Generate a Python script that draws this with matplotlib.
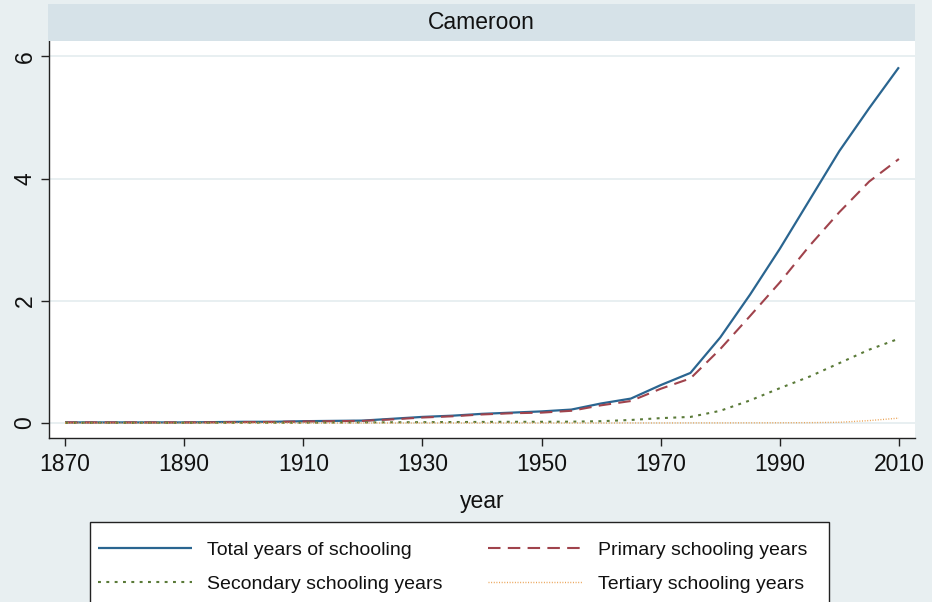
import numpy as np
import matplotlib
matplotlib.use("Agg")
import matplotlib.pyplot as plt
from matplotlib.patches import Rectangle

plt.rcParams['font.family'] = ['Liberation Sans', 'DejaVu Sans']

# average years of schooling, Cameroon, 5-year steps
years = list(range(1870, 2011, 5))
total = [0.01, 0.01, 0.01, 0.01, 0.01, 0.015, 0.02, 0.02, 0.03, 0.035,
         0.04, 0.07, 0.10, 0.12, 0.15, 0.17, 0.19, 0.22, 0.32, 0.40,
         0.62, 0.82, 1.40, 2.10, 2.85, 3.65, 4.45, 5.15, 5.82]
primary = [0.01, 0.01, 0.01, 0.01, 0.01, 0.012, 0.015, 0.018, 0.025, 0.03,
           0.035, 0.06, 0.09, 0.11, 0.14, 0.16, 0.17, 0.20, 0.29, 0.36,
           0.56, 0.73, 1.21, 1.75, 2.30, 2.90, 3.45, 3.95, 4.32]
secondary = [0.005, 0.005, 0.005, 0.005, 0.005, 0.005, 0.005, 0.005, 0.005, 0.008,
             0.01, 0.012, 0.014, 0.016, 0.018, 0.02, 0.02, 0.022, 0.03, 0.05,
             0.08, 0.10, 0.20, 0.37, 0.57, 0.76, 0.98, 1.20, 1.38]
tertiary = [0.0, 0.0, 0.0, 0.0, 0.0, 0.0, 0.0, 0.0, 0.0, 0.0,
            0.0, 0.0, 0.0, 0.0, 0.0, 0.0, 0.0, 0.0, 0.0, 0.001,
            0.001, 0.002, 0.002, 0.003, 0.004, 0.006, 0.012, 0.04, 0.08]

series_labels = ["Total years of schooling", "Primary schooling years",
                 "Secondary schooling years", "Tertiary schooling years"]
xticks = [1870, 1890, 1910, 1930, 1950, 1970, 1990, 2010]
yticks = [0, 2, 4, 6]

bg = "#e8eff1"
band = "#d6e2e8"
gridc = "#e6eef0"

W, H = 932, 602
fig = plt.figure(figsize=(W / 100, H / 100), dpi=100, facecolor=bg)

ax = fig.add_axes([49 / W, 1 - 438 / H, 866 / W, 397 / H])
ax.set_facecolor("white")

l1, = ax.plot(years, total, color="#2a6590", lw=1.6, solid_capstyle="butt")
l2, = ax.plot(years, primary, color="#a0434c", lw=1.5, dashes=(6, 3.5))
l3, = ax.plot(years, secondary, color="#5a7a38", lw=1.5, dashes=(1.4, 2.6))
l4, = ax.plot(years, tertiary, color="#eaa050", lw=1.0, dashes=(0.7, 1.2))

ax.set_xlim(1867.3, 2012.7)
ax.set_ylim(-0.245, 6.25)
ax.set_xticks(xticks)
ax.set_yticks(yticks)
ax.yaxis.grid(True, color=gridc, lw=1.3)
ax.set_axisbelow(True)

for s in ["top", "right"]:
    ax.spines[s].set_visible(False)
for s in ["left", "bottom"]:
    ax.spines[s].set_color("#222222")
    ax.spines[s].set_linewidth(1.0)

ax.tick_params(axis="both", direction="out", length=6, width=1.0,
               color="#222222", labelsize=16.5, labelcolor="#111111")
ax.tick_params(axis="x", pad=5)
ax.tick_params(axis="y", pad=3)
for lab in ax.get_yticklabels():
    lab.set_rotation(90)
    lab.set_va("center")

ax.set_xlabel("year", fontsize=16.5, color="#111111", labelpad=10)

# title band
tax = fig.add_axes([48 / W, 1 - 41 / H, 867 / W, 37 / H])
tax.set_facecolor(band)
tax.set_xticks([])
tax.set_yticks([])
for s in tax.spines.values():
    s.set_visible(False)
tax.text(0.5, 0.5, "Cameroon", ha="center", va="center", fontsize=16.5,
         color="#111111", transform=tax.transAxes)

# legend box
fig.patches.append(Rectangle((90 / W, 1 - 612 / H), 739 / W, 90 / H,
                             transform=fig.transFigure, facecolor="white",
                             edgecolor="#222222", lw=1.0, zorder=1))
# column-major fill: row 1 = total, primary; row 2 = secondary, tertiary
leg = fig.legend([l1, l3, l2, l4],
                 [series_labels[0], series_labels[2], series_labels[1], series_labels[3]],
                 ncol=2, loc="upper left", bbox_to_anchor=(98 / W, 1 - 541 / H),
                 frameon=False, fontsize=14, handlelength=4.85,
                 handletextpad=0.77, columnspacing=2.35, labelspacing=0.85,
                 borderpad=0, borderaxespad=0)
leg.set_zorder(2)
for t in leg.get_texts():
    t.set_color("#111111")

fig.savefig("out.png", dpi=100, facecolor=bg)
